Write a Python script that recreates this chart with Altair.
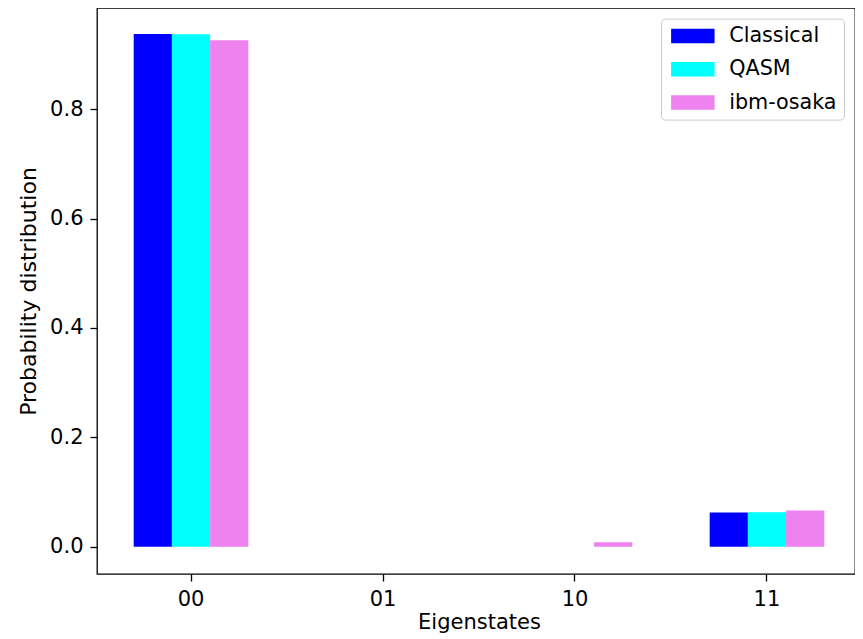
import altair as alt
import pandas as pd

categories = ["00", "01", "10", "11"]
series = ["Classical", "QASM", "ibm-osaka"]
classical = [0.9375, 0.0, 0.0, 0.0625]
qasm = [0.937, 0.0, 0.0, 0.063]
ibm_osaka = [0.926, 0.0, 0.008, 0.066]
colors = ["#0000ff", "#00ffff", "#ee82ee"]
y_ticks = [0.0, 0.2, 0.4, 0.6, 0.8]

rows = []
for name, vals in zip(series, [classical, qasm, ibm_osaka]):
    for c, v in zip(categories, vals):
        rows.append({"state": c, "series": name, "prob": v})
df = pd.DataFrame(rows)

FONT = "DejaVu Sans"
TICK_FS = 21
XT_FS = 21
YT_FS = 22
LEG_FS = 20.7

common_axis = dict(grid=False, domain=False, tickColor="black", tickWidth=1.3,
                   labelColor="black", titleColor="black",
                   labelFont=FONT, titleFont=FONT, titleFontWeight="normal")

chart = alt.Chart(df).mark_bar(stroke=None).encode(
    x=alt.X("state:N", sort=categories,
            scale=alt.Scale(paddingInner=0.403, paddingOuter=0.186, range=[1, 763]),
            axis=alt.Axis(title="Eigenstates", labelAngle=0, tickSize=7,
                          labelPadding=7, titlePadding=2,
                          labelFontSize=TICK_FS, titleFontSize=XT_FS, **common_axis)),
    xOffset=alt.XOffset("series:N", sort=series,
                        scale=alt.Scale(domain=series, paddingInner=0, paddingOuter=0)),
    y=alt.Y("prob:Q",
            scale=alt.Scale(domain=[0, 0.8], range=[538.7, 101.1], nice=False, zero=False),
            axis=alt.Axis(title="Probability distribution", values=y_ticks, format=".1f",
                          tickSize=7, labelPadding=7, titlePadding=9, titleY=283,
                          labelFontSize=TICK_FS, titleFontSize=YT_FS, **common_axis)),
    color=alt.Color("series:N", sort=series,
                    scale=alt.Scale(domain=series, range=colors),
                    legend=alt.Legend(orient="none", legendX=564, legendY=10.6, title=None,
                                      symbolType="M-1,-1H5V1H-1Z", symbolSize=210,
                                      symbolStrokeWidth=0, symbolOpacity=1,
                                      labelOffset=40.5, rowPadding=11.3, padding=7,
                                      strokeColor="#cccccc", fillColor="white",
                                      cornerRadius=4, labelFont=FONT, labelFontSize=LEG_FS,
                                      labelColor="black")),
).properties(
    width=758, height=566,
    autosize=alt.AutoSizeParams(type="none"),
    padding={"left": 89, "top": 0, "right": 0, "bottom": 61},
).configure_view(stroke="black", strokeWidth=1.3)

chart.save("out.html", embed_options={"renderer": "svg", "actions": False})
